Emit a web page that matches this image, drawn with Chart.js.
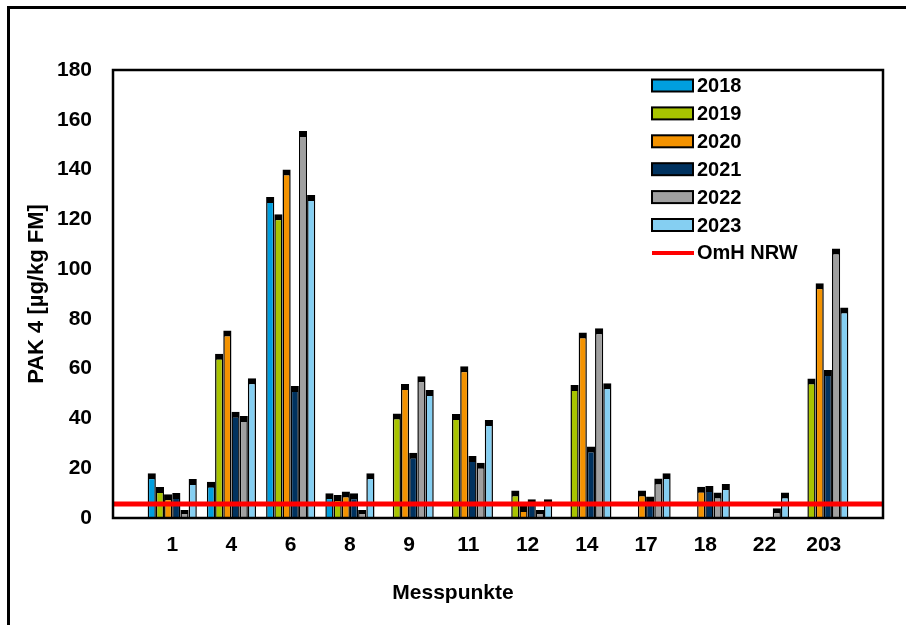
<!DOCTYPE html>
<html>
<head>
<meta charset="utf-8">
<script src="https://cdn.jsdelivr.net/npm/chart.js@4"></script>
<style>
    html, body { margin: 0; padding: 0; background: #fff; overflow: hidden; }
    #wrap { position: relative; width: 906px; height: 625px; overflow: hidden; }
    #frame {
        position: absolute; left: 7px; top: 6px; width: 950px; height: 700px;
        border-left: 3px solid #000; border-top: 3px solid #000;
        pointer-events: none;
    }
</style>
</head>
<body>
<div id="wrap">
    <canvas id="pakChart" width="906" height="625"></canvas>
    <div id="frame"></div>
</div>
<script>
// Messpunkte und Jahreswerte (PAK 4, µg/kg FM)
const messpunkte = ['1', '4', '6', '8', '9', '11', '12', '14', '17', '18', '22', '203'];
const jahre = ['2018', '2019', '2020', '2021', '2022', '2023'];
const werte2018 = [18, 14.6, 129, 9.9, null, null, null, null, null, null, null, null];
const werte2019 = [12.5, 66, 122, 9.2, 42, 41.8, 11, 53.4, null, null, null, 56];
const werte2020 = [9.5, 75.3, 140, 10.6, 53.8, 61, 4.8, 74.5, 11, 12.6, null, 94.3];
const werte2021 = [10, 42.7, 53, 9.9, 26.2, 24.9, 7.5, 28.7, 8.6, 12.9, null, 59.5];
const werte2022 = [3.2, 41, 155.5, 3.2, 57, 22.2, 3.2, 76.2, 15.9, 10.2, 3.9, 108.3];
const werte2023 = [15.7, 56.1, 129.8, 18, 51.4, 39.4, 7.5, 54.1, 18, 13.7, 10.2, 84.6];
const omhNrw = 5.6;
const yTicks = [0, 20, 40, 60, 80, 100, 120, 140, 160, 180];

const farben = ['#009FDF', '#A8C400', '#F39200', '#00325F', '#A0A0A0', '#85CFF2'];

// leere Kategorie vorne und hinten, wie im Original
const labels = [''].concat(messpunkte, ['']);
function pad(arr) { return [null].concat(arr, [null]); }

Chart.defaults.font.family = 'Arial, "Liberation Sans", sans-serif';
Chart.defaults.color = '#000';

const serien = [werte2018, werte2019, werte2020, werte2021, werte2022, werte2023];
const datasets = serien.map((werte, i) => ({
    type: 'bar',
    label: jahre[i],
    data: pad(werte),
    backgroundColor: farben[i],
    borderColor: '#000',
    borderWidth: { top: 6, left: 1.5, right: 1.5, bottom: 0 },
    borderSkipped: false,
    categoryPercentage: 0.83,
    barPercentage: 1.0,
    order: 1
}));
datasets.push({
    type: 'line',
    label: 'OmH NRW',
    data: labels.map(() => omhNrw),
    borderColor: '#FF0000',
    borderWidth: 5,
    pointRadius: 0,
    fill: false,
    order: 0
});

// Rahmen um den Plotbereich, Legende und x-Achsentitel
const extras = {
    id: 'extras',
    afterDatasetsDraw(chart) {
        const ctx = chart.ctx;
        const a = chart.chartArea;
        ctx.save();
        ctx.strokeStyle = '#000';
        ctx.lineWidth = 2.5;
        ctx.strokeRect(a.left, a.top, a.right - a.left, a.bottom - a.top);
        ctx.restore();
    },
    afterDraw(chart) {
        const ctx = chart.ctx;
        ctx.save();
        ctx.font = 'bold 20px Arial, "Liberation Sans", sans-serif';
        ctx.textBaseline = 'middle';
        ctx.textAlign = 'left';
        chart.data.datasets.forEach((ds, i) => {
            const y = 85.5 + i * 27.9;
            if (ds.type === 'line') {
                ctx.strokeStyle = ds.borderColor;
                ctx.lineWidth = 4;
                ctx.beginPath();
                ctx.moveTo(652, y);
                ctx.lineTo(694, y);
                ctx.stroke();
            } else {
                ctx.fillStyle = ds.backgroundColor;
                ctx.fillRect(652, y - 6, 41, 12);
                ctx.strokeStyle = '#000';
                ctx.lineWidth = 2;
                ctx.strokeRect(652, y - 6, 41, 12);
            }
            ctx.fillStyle = '#000';
            ctx.fillText(ds.label, 697, y + 1);
        });
        ctx.font = 'bold 21px Arial, "Liberation Sans", sans-serif';
        ctx.textAlign = 'center';
        ctx.fillText('Messpunkte', 453, 593);
        ctx.restore();
    }
};

new Chart(document.getElementById('pakChart').getContext('2d'), {
    data: { labels: labels, datasets: datasets },
    options: {
        responsive: false,
        animation: false,
        layout: { padding: { left: 0, top: 70, right: 23, bottom: 0 } },
        plugins: {
            legend: { display: false },
            tooltip: { enabled: false }
        },
        scales: {
            x: {
                type: 'category',
                offset: false,
                grid: { display: false, drawTicks: false },
                border: { display: false },
                ticks: {
                    autoSkip: false,
                    maxRotation: 0,
                    padding: 15,
                    color: '#000',
                    font: { size: 21, weight: 'bold' }
                },
                afterFit: scale => { scale.height = 107; }
            },
            y: {
                min: 0,
                max: 180,
                grid: { display: false, drawTicks: false },
                border: { display: false },
                afterBuildTicks: scale => { scale.ticks = yTicks.map(v => ({ value: v })); },
                ticks: {
                    padding: 21,
                    color: '#000',
                    font: { size: 21, weight: 'bold' }
                },
                title: {
                    display: true,
                    text: 'PAK 4 [µg/kg FM]',
                    color: '#000',
                    font: { size: 22, weight: 'bold' },
                    padding: { top: 24, bottom: 0 }
                },
                afterFit: scale => { scale.width = 113; }
            }
        }
    },
    plugins: [extras]
});
</script>
</body>
</html>
